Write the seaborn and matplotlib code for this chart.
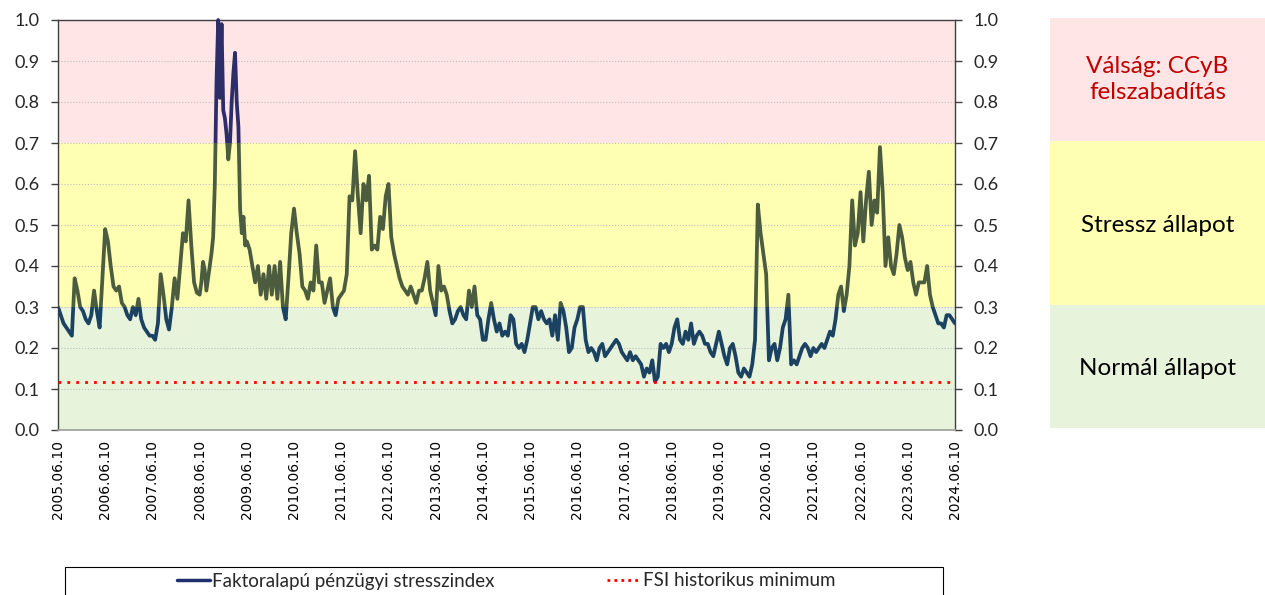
import numpy as np
import pandas as pd
import seaborn as sns
import matplotlib.pyplot as plt
from matplotlib.patches import Rectangle
from matplotlib.lines import Line2D
from matplotlib.ticker import FormatStrFormatter

# FSI values, one list per June-to-June year
fsi_2005 = [0.30, 0.28, 0.26, 0.25, 0.24, 0.23, 0.37, 0.34, 0.30, 0.29, 0.27, 0.26, 0.28, 0.34, 0.29, 0.25, 0.37]
fsi_2006 = [0.49, 0.46, 0.40, 0.35, 0.34, 0.35, 0.31, 0.30, 0.28, 0.27, 0.30, 0.28, 0.32, 0.27, 0.25, 0.24, 0.23]
fsi_2007 = [0.23, 0.22, 0.26, 0.38, 0.33, 0.27, 0.245, 0.30, 0.37, 0.32, 0.40, 0.48, 0.46, 0.56, 0.45, 0.36, 0.335]
fsi_2008 = [0.33, 0.36, 0.41, 0.39, 0.34, 0.37, 0.40, 0.43, 0.47, 0.60, 0.85, 1.00, 0.81, 0.99,
            0.78, 0.76, 0.72, 0.66, 0.70, 0.80, 0.87, 0.92, 0.80, 0.74, 0.54, 0.48, 0.52, 0.45]
fsi_2009 = [0.46, 0.44, 0.40, 0.36, 0.40, 0.33, 0.38, 0.32, 0.40, 0.33, 0.40, 0.32, 0.41, 0.30, 0.27, 0.37, 0.48]
fsi_2010 = [0.54, 0.48, 0.43, 0.35, 0.34, 0.32, 0.36, 0.34, 0.45, 0.36, 0.36, 0.31, 0.34, 0.37, 0.30, 0.28, 0.32]
fsi_2011 = [0.33, 0.34, 0.38, 0.57, 0.56, 0.68, 0.57, 0.48, 0.60, 0.56, 0.62, 0.44, 0.45, 0.44, 0.52, 0.49, 0.57]
fsi_2012 = [0.60, 0.47, 0.43, 0.40, 0.37, 0.35, 0.34, 0.33, 0.35, 0.33, 0.31, 0.34, 0.34, 0.37, 0.41, 0.34, 0.31]
fsi_2013 = [0.28, 0.40, 0.34, 0.35, 0.33, 0.29, 0.26, 0.27, 0.29, 0.30, 0.28, 0.27, 0.34, 0.30, 0.35, 0.28, 0.27]
fsi_2014 = [0.22, 0.22, 0.27, 0.31, 0.27, 0.24, 0.26, 0.23, 0.24, 0.23, 0.28, 0.27, 0.21, 0.20, 0.21, 0.19, 0.22]
fsi_2015 = [0.26, 0.30, 0.30, 0.27, 0.29, 0.27, 0.26, 0.27, 0.23, 0.28, 0.22, 0.31, 0.29, 0.25, 0.19, 0.20, 0.25]
fsi_2016 = [0.27, 0.30, 0.30, 0.22, 0.19, 0.20, 0.19, 0.17, 0.20, 0.21, 0.18, 0.19, 0.20, 0.21, 0.22, 0.21, 0.19]
fsi_2017 = [0.18, 0.17, 0.19, 0.17, 0.18, 0.17, 0.16, 0.13, 0.15, 0.14, 0.17, 0.118, 0.13, 0.21, 0.20, 0.21, 0.19]
fsi_2018 = [0.21, 0.25, 0.27, 0.22, 0.21, 0.24, 0.22, 0.26, 0.21, 0.23, 0.24, 0.23, 0.21, 0.21, 0.19, 0.18, 0.21]
fsi_2019 = [0.24, 0.21, 0.18, 0.16, 0.20, 0.21, 0.18, 0.14, 0.13, 0.15, 0.14, 0.13, 0.16, 0.22, 0.55, 0.48, 0.43]
fsi_2020 = [0.38, 0.17, 0.20, 0.21, 0.17, 0.20, 0.25, 0.27, 0.33, 0.16, 0.17, 0.16, 0.18, 0.20, 0.21, 0.20, 0.18]
fsi_2021 = [0.20, 0.19, 0.20, 0.21, 0.20, 0.22, 0.24, 0.23, 0.27, 0.33, 0.35, 0.29, 0.33, 0.40, 0.56, 0.45, 0.48]
fsi_2022 = [0.58, 0.46, 0.56, 0.63, 0.50, 0.56, 0.53, 0.69, 0.58, 0.40, 0.47, 0.40, 0.38, 0.43, 0.50, 0.47, 0.42]
fsi_2023 = [0.39, 0.41, 0.36, 0.33, 0.36, 0.36, 0.36, 0.40, 0.33, 0.30, 0.28, 0.26, 0.26, 0.25, 0.28, 0.28, 0.27]
fsi_last = 0.26          # 2024.06.10
fsi_min = 0.118          # historikus minimum

tick_years = list(range(2005, 2025))
zone_edges = [0.0, 0.3, 0.7, 1.0]
zone_fill = ['#E8F3DC', '#FFFFB3', '#FFE5E5']
zone_line = ['#1C4262', '#4C5C3E', '#2D2D69']
zone_text = ['Normál állapot', 'Stressz állapot', 'Válság: CCyB\nfelszabadítás']
zone_text_y = [0.146, 0.495, 0.849]
zone_text_color = ['black', 'black', '#C00000']

segments = [fsi_2005, fsi_2006, fsi_2007, fsi_2008, fsi_2009, fsi_2010, fsi_2011, fsi_2012,
            fsi_2013, fsi_2014, fsi_2015, fsi_2016, fsi_2017, fsi_2018, fsi_2019, fsi_2020,
            fsi_2021, fsi_2022, fsi_2023]
dates, values = [], []
for y, seg in zip(range(2005, 2024), segments):
    d = pd.date_range(f'{y}-06-10', f'{y + 1}-06-10', periods=len(seg) + 1)[:-1]
    dates.extend(d)
    values.extend(seg)
dates.append(pd.Timestamp('2024-06-10'))
values.append(fsi_last)
df = pd.DataFrame({'date': dates, 'fsi': values})

sns.set_theme(style='white')
plt.rcParams['font.family'] = ['Lato', 'DejaVu Sans']

W, H = 1265, 595
fig = plt.figure(figsize=(W / 100, H / 100), dpi=100)
ax = fig.add_axes([58 / W, 1 - 430 / H, (955 - 58) / W, 410 / H])

for i in range(3):
    lo, hi = zone_edges[i], zone_edges[i + 1]
    ax.axhspan(lo, hi, color=zone_fill[i], lw=0, zorder=0)
    sns.lineplot(data=df, x='date', y='fsi', color=zone_line[i], lw=2.7, ax=ax, zorder=3)
    clip = Rectangle((0, lo), 1, (hi - lo) if i < 2 else 0.5, transform=ax.get_yaxis_transform())
    ax.lines[-1].set_clip_path(clip)

ax.axhline(fsi_min, color='#FF0000', lw=2, ls=(0, (1, 2.2)), zorder=4)

ax.set_ylim(0, 1)
ax.set_xlim(pd.Timestamp('2005-06-10'), pd.Timestamp('2024-06-10'))
ax.set_yticks(np.arange(0, 1.01, 0.1))
ax.yaxis.set_major_formatter(FormatStrFormatter('%.1f'))
ax.set_axisbelow(True)
ax.yaxis.grid(True, color='#BFBFBF', ls=':', lw=0.8)
ax.set_xlabel('')
ax.set_ylabel('')

ax.set_xticks([pd.Timestamp(f'{y}-06-10') for y in tick_years])
ax.set_xticklabels([f'{y}.06.10' for y in tick_years], rotation=90,
                   fontfamily='DejaVu Sans', fontsize=10)
ax.tick_params(axis='x', length=0, pad=7, colors='black')
ax.tick_params(axis='y', left=True, right=True, labelleft=True, labelright=True,
               length=5, width=1, direction='out', pad=8, labelsize=13, color='#404040')
for s in ['left', 'right', 'top']:
    ax.spines[s].set_color('#404040')
    ax.spines[s].set_linewidth(1)
ax.spines['bottom'].set_color('#A0A0A0')

# side panel with the zone names
pax = fig.add_axes([1050 / W, 1 - 428 / H, 215 / W, 410 / H])
for i in range(3):
    pax.axhspan(zone_edges[i], zone_edges[i + 1], color=zone_fill[i], lw=0)
    pax.text(0.5, zone_text_y[i], zone_text[i], ha='center', va='center', fontsize=17.5,
             color=zone_text_color[i], linespacing=1.3)
pax.set_xlim(0, 1)
pax.set_ylim(0, 1)
pax.axis('off')

handles = [Line2D([], [], color='#1F2F6E', lw=2.5),
           Line2D([], [], color='#FF0000', lw=2, ls=(0, (1, 1.5)))]
labels = ['Faktoralapú pénzügyi stresszindex', 'FSI historikus minimum']
fig.legend(handles, labels, loc='center', bbox_to_anchor=(506 / W, 1 - 581 / H), ncol=2,
           frameon=False, fontsize=13.5, handlelength=1.8, handletextpad=0.1, columnspacing=6.0)
fig.add_artist(Rectangle((65 / W, -0.05), 878 / W, 0.05 + 28 / H, transform=fig.transFigure,
                         fill=False, ec='black', lw=0.8))

fig.savefig('out.png', dpi=100)
